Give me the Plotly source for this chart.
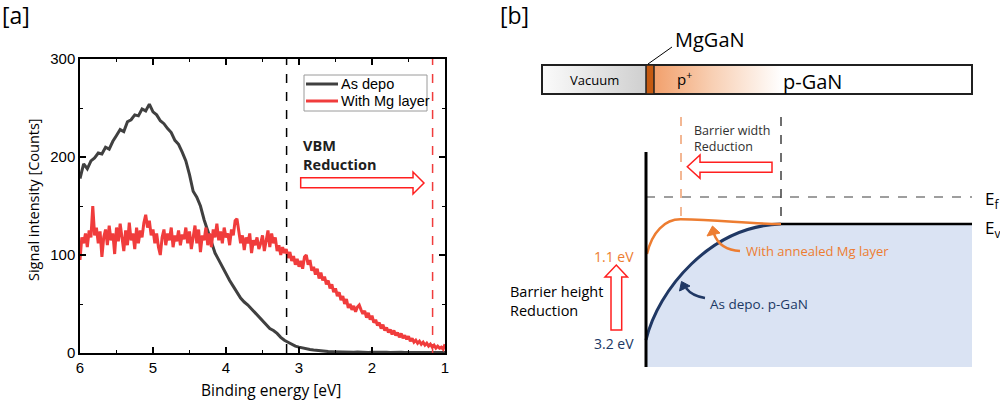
import numpy as np
import plotly.graph_objects as go

# ---------------- Panel [a] data ----------------
AS_DEPO = [
    178, 193, 188, 196, 199, 204, 203, 210, 208, 216,
    222, 228, 226, 236, 238, 243, 242, 249, 247, 254,
    246, 243, 237, 234, 229, 225, 217, 213, 205, 196,
    182, 165, 159, 150, 136, 124, 112, 102, 95, 88,
    80, 74, 68, 62, 56, 52, 49, 45, 41, 36,
    32, 28, 25, 23, 20, 16, 13, 11, 9, 7,
    6, 5, 4, 3.5, 3, 2.5, 2, 1.8, 1.5, 1.4,
    1.2, 1.0, 1.3, 0.9, 1.0, 0.8, 1.0, 0.7, 0.9, 0.6,
    0.8, 0.6, 0.9, 0.5, 0.7, 0.6, 0.8, 0.5, 0.7, 0.5,
    0.6, 0.4, 0.6, 0.5, 0.7, 0.4, 0.5, 0.6, 0.4, 0.5, 0.5,
]
WITH_MG = [
    95, 118, 112, 122, 108, 125, 118, 150, 120, 128,
    112, 124, 98, 118, 126, 110, 130, 115, 122, 101,
    128, 114, 132, 118, 104, 125, 110, 133, 115, 122,
    106, 128, 112, 125, 118, 133, 141, 128, 135, 120,
    126, 112, 122, 108, 100, 118, 126, 110, 122, 115,
    128, 108, 120, 114, 125, 110, 121, 116, 128, 112,
    124, 106, 118, 130, 112, 126, 103, 120, 115, 128,
    110, 122, 108, 126, 118, 132, 115, 124, 112, 128,
    118, 122, 110, 126, 120, 135, 137, 124, 112, 120,
    105, 118, 112, 122, 102, 115, 110, 118, 106, 112,
    120, 104, 116, 125, 108, 122, 112, 118, 104,
    110, 100, 108, 102, 106, 97, 103, 94, 99, 90,
    96, 88, 94, 86, 98, 100, 90, 95, 84, 88,
    80, 86, 76, 82, 74, 78, 70, 74, 66, 70,
    62, 66, 58, 62, 54, 58, 50, 55, 46, 50,
    44, 48, 42, 47, 49, 44, 40, 43, 36, 41,
    34, 38, 31, 34, 28, 31, 25, 29, 23, 26,
    21, 24, 19, 23, 18, 21, 16, 20, 15, 18,
    14, 17, 12, 15, 11, 13, 10, 12, 9, 11,
    8, 10, 7, 9, 6, 8, 5, 7, 5, 6,
    4, 9,
]
SERIES_NAMES = ["As depo", "With Mg layer"]
SERIES_COLORS = ["#404040", "#f03c3c"]
E_START, E_END = 6.0, 1.0
VBM_AS_DEPO = 3.17
VBM_WITH_MG = 1.17
X_TICKS = [6, 5, 4, 3, 2, 1]
Y_TICKS = [0, 100, 200, 300]

E_black = np.linspace(E_START, E_END, len(AS_DEPO))
E_red = np.linspace(E_START, E_END, len(WITH_MG))

# VBM reduction hollow arrow (data coords: eV, counts)
VBM_ARROW_X = [2.977, 1.438, 1.438, 1.288, 1.438, 1.438, 2.977]
VBM_ARROW_Y = [178.9, 178.9, 184.7, 173.5, 162.2, 168.7, 168.7]

# ---------------- Panel [b] schematic geometry (pixel frame) ----------------
BAR = dict(x0=542, x1=972, y0=65, y1=94)
VAC_X = [542, 646]
MG_X = [646, 654]
PPLUS_X = [654, 782]
WALL_X, WALL_Y = 646, [152, 367]
EF_Y, EV_Y = 197, 224
DEPL_X = 781          # as-depo barrier edge
MGDEPL_X = 681        # Mg barrier edge
DASH_TOP = 117
BLUE_CURVE = [(646, 340), (658, 290), (710, 226), (781, 224)]
ORANGE_CURVE = [(647, 254), (652, 232), (665, 219), (681, 219.3),
                (720, 220), (750, 224), (781, 224)]
BOTTOM_Y = 367
RIGHT_X = 972
LEFT_ARROW = [(772, 162.3), (700, 162.3), (700, 155), (687.3, 166.7),
              (700, 178.3), (700, 172.3), (772, 172.3)]
UP_ARROW = [(611, 330), (611, 277), (605, 277), (616.3, 265),
            (627.5, 277), (621.7, 277), (621.7, 330)]

NAVY = "#203864"
ORANGE = "#ed7d31"
RED = "#ff1f1f"
W, H = 1000, 402

fig = go.Figure()

# ---- panel a traces
fig.add_trace(go.Scatter(x=E_black, y=AS_DEPO, mode="lines", name=SERIES_NAMES[0],
                         line=dict(color=SERIES_COLORS[0], width=3), showlegend=False))
fig.add_trace(go.Scatter(x=E_red, y=WITH_MG, mode="lines", name=SERIES_NAMES[1],
                         line=dict(color=SERIES_COLORS[1], width=3), showlegend=False))

# ---- panel b gradient fills
fig.add_trace(go.Scatter(
    x=[VAC_X[0], VAC_X[1], VAC_X[1], VAC_X[0], VAC_X[0]],
    y=[BAR["y0"], BAR["y0"], BAR["y1"], BAR["y1"], BAR["y0"]],
    xaxis="x2", yaxis="y2", mode="lines", fill="toself",
    fillgradient=dict(type="horizontal", colorscale=[[0, "#fbfbfb"], [1, "#cfcfcf"]]),
    line=dict(width=0, color="rgba(0,0,0,0)"), showlegend=False, hoverinfo="skip"))
fig.add_trace(go.Scatter(
    x=[PPLUS_X[0], PPLUS_X[1], PPLUS_X[1], PPLUS_X[0], PPLUS_X[0]],
    y=[BAR["y0"], BAR["y0"], BAR["y1"], BAR["y1"], BAR["y0"]],
    xaxis="x2", yaxis="y2", mode="lines", fill="toself",
    fillgradient=dict(type="horizontal",
                      colorscale=[[0, "#f2a06c"], [0.45, "#f8cfb3"], [1, "#ffffff"]]),
    line=dict(width=0, color="rgba(0,0,0,0)"), showlegend=False, hoverinfo="skip"))


def pts_path(pts, close=True):
    s = "M " + " L ".join(f"{x},{y}" for x, y in pts)
    return s + (" Z" if close else "")


def bez_path(pts):
    s = f"M {pts[0][0]},{pts[0][1]}"
    for i in range(1, len(pts), 3):
        a, b, c = pts[i], pts[i + 1], pts[i + 2]
        s += f" C {a[0]},{a[1]} {b[0]},{b[1]} {c[0]},{c[1]}"
    return s


B2 = dict(xref="x2", yref="y2")
shapes = []
# blue valence region
shapes.append(dict(type="path", layer="below",
                   path=bez_path(BLUE_CURVE) + f" L {RIGHT_X},{EV_Y} L {RIGHT_X},{BOTTOM_Y} L {WALL_X},{BOTTOM_Y} Z",
                   fillcolor="#dae3f3", line=dict(width=0), **B2))
# dashed guides
shapes.append(dict(type="line", x0=WALL_X, x1=RIGHT_X, y0=EF_Y, y1=EF_Y,
                   line=dict(color="#7f7f7f", width=1.5, dash="dash"), **B2))
shapes.append(dict(type="line", x0=DEPL_X, x1=DEPL_X, y0=DASH_TOP, y1=EV_Y,
                   line=dict(color="#404040", width=1.5, dash="dash"), **B2))
shapes.append(dict(type="line", x0=MGDEPL_X, x1=MGDEPL_X, y0=DASH_TOP, y1=219.3,
                   line=dict(color="#f0a070", width=1.5, dash="dash"), **B2))
# curves
shapes.append(dict(type="path", path=bez_path(BLUE_CURVE),
                   line=dict(color=NAVY, width=3), **B2))
shapes.append(dict(type="path", path=bez_path(ORANGE_CURVE),
                   line=dict(color=ORANGE, width=2.5), **B2))
shapes.append(dict(type="line", x0=DEPL_X, x1=RIGHT_X, y0=EV_Y, y1=EV_Y,
                   line=dict(color="black", width=2.5), **B2))
shapes.append(dict(type="line", x0=WALL_X, x1=WALL_X, y0=WALL_Y[0], y1=WALL_Y[1],
                   line=dict(color="black", width=3), **B2))
# hollow red arrows
shapes.append(dict(type="path", path=pts_path(LEFT_ARROW), fillcolor="white",
                   line=dict(color=RED, width=1.5), **B2))
shapes.append(dict(type="path", path=pts_path(UP_ARROW), fillcolor="white",
                   line=dict(color=RED, width=1.5), **B2))
# curved pointer arrows
shapes.append(dict(type="path", path="M 740,251 Q 720,250 714,234",
                   line=dict(color=ORANGE, width=2.5), **B2))
shapes.append(dict(type="path", path=pts_path([(712.5, 226), (707, 236), (720, 233)]),
                   fillcolor=ORANGE, line=dict(color=ORANGE, width=1), **B2))
shapes.append(dict(type="path", path="M 705,298 Q 692,296 686,288",
                   line=dict(color=NAVY, width=2.5), **B2))
shapes.append(dict(type="path", path=pts_path([(681.5, 281.5), (679.5, 291), (690, 286)]),
                   fillcolor=NAVY, line=dict(color=NAVY, width=1), **B2))
# layer bar
shapes.append(dict(type="rect", x0=BAR["x0"], x1=BAR["x1"], y0=BAR["y0"], y1=BAR["y1"],
                   line=dict(color="#202020", width=2), **B2))
shapes.append(dict(type="rect", x0=MG_X[0], x1=MG_X[1], y0=BAR["y0"], y1=BAR["y1"],
                   fillcolor="#c55a11", line=dict(color="#202020", width=1.5), **B2))
shapes.append(dict(type="line", x0=648, y0=64, x1=672, y1=47,
                   line=dict(color="black", width=1), **B2))

# panel a dashed VBM lines and arrow
shapes.append(dict(type="line", xref="x", yref="y domain", x0=VBM_AS_DEPO, x1=VBM_AS_DEPO,
                   y0=0, y1=1, line=dict(color="black", width=1.5, dash="dash")))
shapes.append(dict(type="line", xref="x", yref="y domain", x0=VBM_WITH_MG, x1=VBM_WITH_MG,
                   y0=0, y1=1, line=dict(color="#f03c3c", width=1.5, dash="dash")))
shapes.append(dict(type="path", xref="x", yref="y",
                   path=pts_path(list(zip(VBM_ARROW_X, VBM_ARROW_Y))),
                   fillcolor="white", line=dict(color=RED, width=1.5)))

# manual legend box (pixel positions converted to paper)
LEG = dict(x0=304, x1=427, y0=75, y1=111, rows=[84, 101])
shapes.append(dict(type="rect", xref="paper", yref="paper",
                   x0=LEG["x0"] / W, x1=LEG["x1"] / W, y0=1 - LEG["y0"] / H, y1=1 - LEG["y1"] / H,
                   fillcolor="white", line=dict(color="#9a9a9a", width=1)))
for row, col in zip(LEG["rows"], SERIES_COLORS):
    shapes.append(dict(type="line", xref="paper", yref="paper",
                       x0=306 / W, x1=338 / W, y0=1 - row / H, y1=1 - row / H,
                       line=dict(color=col, width=3)))

TXT = "Open Sans, Noto Sans, sans-serif"
ARIAL = "Liberation Sans, Arial, sans-serif"
ann = []


def tp(text, px, py, size, family=TXT, xanchor="center", textangle=0, color="black"):
    ann.append(dict(text=text, x=px / W, y=1 - py / H, xref="paper", yref="paper",
                    xanchor=xanchor, yanchor="middle", showarrow=False, textangle=textangle,
                    font=dict(size=size, family=family, color=color)))


for row, name in zip(LEG["rows"], SERIES_NAMES):
    tp(name, 339, row, 14.5, ARIAL, "left")
tp("[a]", 0, 15, 23, TXT, "left")
tp("[b]", 498, 15, 23, TXT, "left")
tp("Signal intensity [Counts]", 34, 200, 14.5, TXT, "center", -90)
tp("Binding energy [eV]", 271, 390, 15.5, TXT, "center")
ann.append(dict(text="<b>VBM<br>Reduction</b>", x=2.97, y=202, xref="x", yref="y",
                xanchor="left", yanchor="middle", align="left", showarrow=False,
                font=dict(size=14.5, family=TXT, color="#202020")))


def t2(text, x, y, size, color="black", xanchor="center", align="center"):
    ann.append(dict(text=text, x=x, y=y, xref="x2", yref="y2", xanchor=xanchor,
                    align=align, yanchor="middle", showarrow=False,
                    font=dict(size=size, family=TXT, color=color)))


t2("MgGaN", 710, 39, 20)
t2("Vacuum", 594, 80, 13)
t2("p<sup>+</sup>", 684, 78, 15)
t2("p-GaN", 812, 81, 20)
t2("Barrier width<br>Reduction", 692, 138, 12.5, "#303030", "left", "left")
t2("E<sub>f</sub>", 983, 199, 17, "black", "left")
t2("E<sub>v</sub>", 983, 228, 17, "black", "left")
t2("With annealed Mg layer", 744, 251, 13, ORANGE, "left")
t2("As depo. p-GaN", 708, 304, 13.5, NAVY, "left")
t2("1.1 eV", 636, 256, 14, ORANGE, "right")
t2("3.2 eV", 636, 343, 14, NAVY, "right")
t2("Barrier height<br>Reduction", 508, 301, 14.5, "black", "left", "left")

TICKF = dict(size=15, family=ARIAL, color="black")
fig.update_layout(
    width=W, height=H, margin=dict(l=0, r=0, t=0, b=0, autoexpand=False),
    paper_bgcolor="white", plot_bgcolor="white",
    shapes=shapes, annotations=ann, showlegend=False,
    xaxis=dict(domain=[0.080, 0.445], range=[E_START, E_END], tickvals=X_TICKS,
               ticks="inside", ticklen=6, tickwidth=1.5, tickcolor="black",
               minor=dict(ticks="inside", dtick=0.5, ticklen=3, tickwidth=1.2, tickcolor="black"),
               showline=True, linecolor="black", linewidth=1.5, mirror="ticks",
               showgrid=False, zeroline=False, tickfont=TICKF, automargin=False),
    yaxis=dict(domain=[1 - 353 / H, 1 - 59 / H], range=[0, 300], tickvals=Y_TICKS,
               ticks="inside", ticklen=6, tickwidth=1.5, tickcolor="black",
               minor=dict(ticks="inside", dtick=50, ticklen=3, tickwidth=1.2, tickcolor="black"),
               showline=True, linecolor="black", linewidth=1.5, mirror="ticks",
               showgrid=False, zeroline=False, tickfont=TICKF, automargin=False),
    xaxis2=dict(domain=[0.5, 1], range=[500, 1000], visible=False, fixedrange=True,
                anchor="y2", automargin=False),
    yaxis2=dict(domain=[0, 1], range=[402, 0], visible=False, fixedrange=True,
                anchor="x2", automargin=False),
)
fig.write_html("out.html", config={"displayModeBar": False},
               post_script="document.body.style.margin='0';document.body.style.overflow='hidden';")
